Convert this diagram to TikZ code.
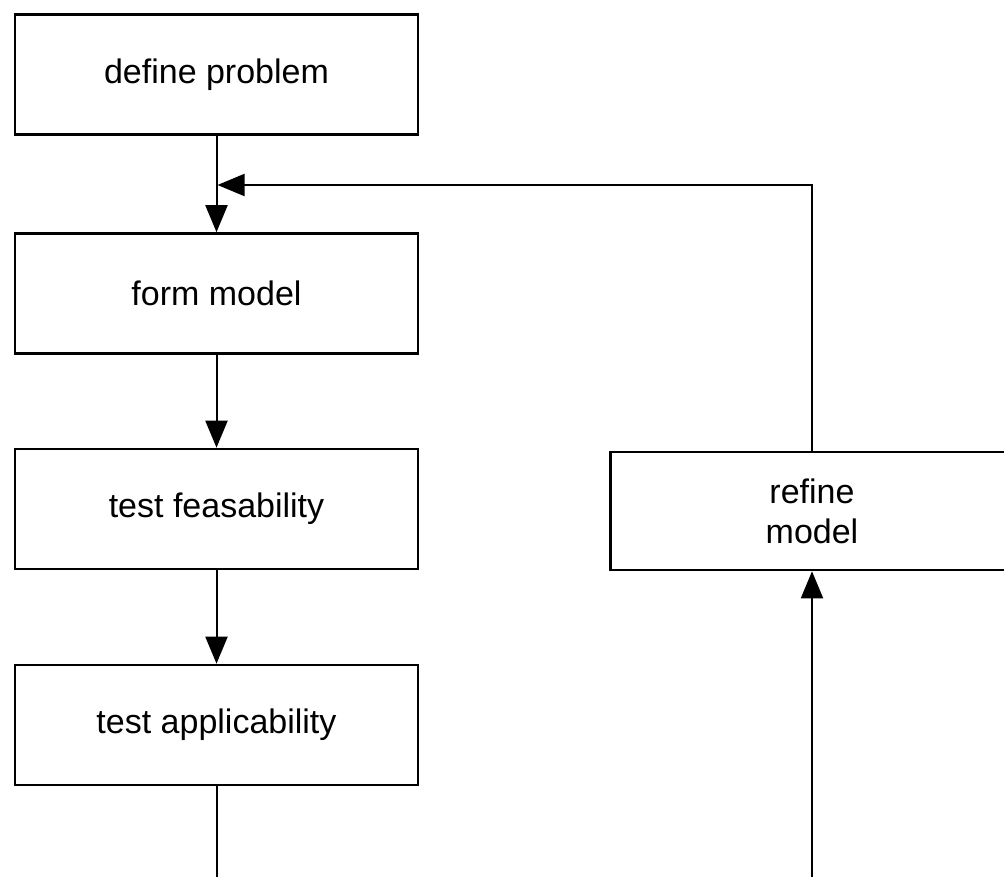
\documentclass[tikz,border=0pt]{standalone}
\usepackage{fontspec}
\setmainfont{Liberation Sans}
\usetikzlibrary{arrows.meta}
\begin{document}
\begin{tikzpicture}[x=1pt,y=-1pt,
  stepbox/.style={draw, line width=2.6pt, minimum width=403pt, minimum height=120pt,
    inner sep=0pt, align=center, font=\fontsize{34}{40}\selectfont},
  flow/.style={line width=2pt, -{Triangle[length=27pt,width=22pt]}},
  plain/.style={line width=2pt}]
  \clip (0,0) rectangle (1004,877);
  \fill[white] (0,0) rectangle (1004,877);

  % main chain of steps
  \node[stepbox] (define) at (216.5,74.5) {define problem};
  \node[stepbox] (form)   at (216.5,293.5) {form model};
  \node[stepbox] (feas)   at (216.5,509) {test feasability};
  \node[stepbox] (appl)   at (216.5,725) {test applicability};
  % refinement step on the right, running past the edge
  \node[stepbox, minimum height=118pt] (refine) at (812,511) {refine\\model};

  % junction on the first connector and loose ends at the bottom edge
  \coordinate (join) at (216.5,185);
  \coordinate (applend) at (216.5,877);
  \coordinate (refstart) at (812,877);

  \draw[flow] (define.south) -- (form.north);
  \draw[flow] (form.south) -- (feas.north);
  \draw[flow] (feas.south) -- (appl.north);
  \draw[plain] (appl.south) -- (applend);
  \draw[flow] (refstart) -- (refine.south);
  \draw[flow] (refine.north) |- ([xshift=1pt]join);
\end{tikzpicture}
\end{document}
